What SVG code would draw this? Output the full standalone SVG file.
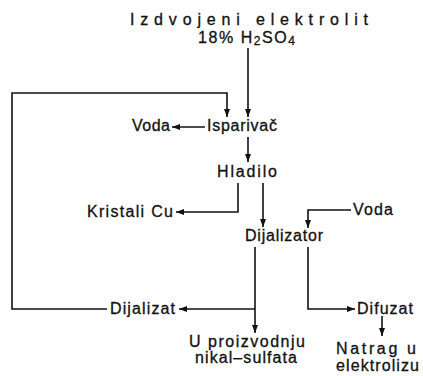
<svg xmlns="http://www.w3.org/2000/svg" width="423" height="376" viewBox="0 0 423 376">
<style>
text{font-family:"Liberation Sans",Arial,sans-serif;font-size:16px;fill:#111;stroke:#111;stroke-width:0.3;}
.c{fill:none;stroke:#111;stroke-width:1.6;}
</style>
<defs>
<marker id="ah" markerUnits="userSpaceOnUse" markerWidth="9" markerHeight="7" refX="8" refY="3" orient="auto">
<path d="M0,0 L8,3 L0,6 z" fill="#111"/>
</marker>
</defs>
<rect width="423" height="376" fill="#fff"/>
<g id="connectors">
<path class="c" d="M248,48 V117" marker-end="url(#ah)"/>
<path class="c" d="M107,309 H12 V93 H227 V117" marker-end="url(#ah)"/>
<path class="c" d="M205,127 H172" marker-end="url(#ah)"/>
<path class="c" d="M248,137 V162" marker-end="url(#ah)"/>
<path class="c" d="M238,183 V212 H176" marker-end="url(#ah)"/>
<path class="c" d="M263,183 V227" marker-end="url(#ah)"/>
<path class="c" d="M351,210 H308 V228" marker-end="url(#ah)"/>
<path class="c" d="M255,247 V333" marker-end="url(#ah)"/>
<path class="c" d="M255,309 H179" marker-end="url(#ah)"/>
<path class="c" d="M308,247 V309 H355" marker-end="url(#ah)"/>
<path class="c" d="M382,316 V336" marker-end="url(#ah)"/>
</g>
<g id="izvor">
<text x="130" y="25" textLength="238" lengthAdjust="spacing">Izdvojeni elektrolit</text>
<text x="198" y="43" textLength="97" lengthAdjust="spacing">18% H<tspan font-size="12" dy="2">2</tspan><tspan dy="-2">SO</tspan><tspan font-size="12" dy="2">4</tspan></text>
</g>
<g id="voda1"><text x="132" y="131" textLength="38" lengthAdjust="spacing">Voda</text></g>
<g id="isparivac"><text x="207" y="131" textLength="70" lengthAdjust="spacing">Isparivač</text></g>
<g id="hladilo"><text x="217" y="177" textLength="60" lengthAdjust="spacing">Hladilo</text></g>
<g id="kristali"><text x="87" y="217" textLength="86" lengthAdjust="spacing">Kristali Cu</text></g>
<g id="voda2"><text x="353" y="215" textLength="40" lengthAdjust="spacing">Voda</text></g>
<g id="dijalizator"><text x="245" y="241" textLength="78" lengthAdjust="spacing">Dijalizator</text></g>
<g id="dijalizat"><text x="110" y="314" textLength="65" lengthAdjust="spacing">Dijalizat</text></g>
<g id="difuzat"><text x="357" y="314" textLength="56" lengthAdjust="spacing">Difuzat</text></g>
<g id="proizvodnja">
<text x="189" y="347" textLength="116" lengthAdjust="spacing">U proizvodnju</text>
<text x="195" y="363" textLength="102" lengthAdjust="spacing">nikal–sulfata</text>
</g>
<g id="natrag">
<text x="336" y="354" textLength="80" lengthAdjust="spacing">Natrag u</text>
<text x="336" y="371" textLength="83" lengthAdjust="spacing">elektrolizu</text>
</g>
</svg>
